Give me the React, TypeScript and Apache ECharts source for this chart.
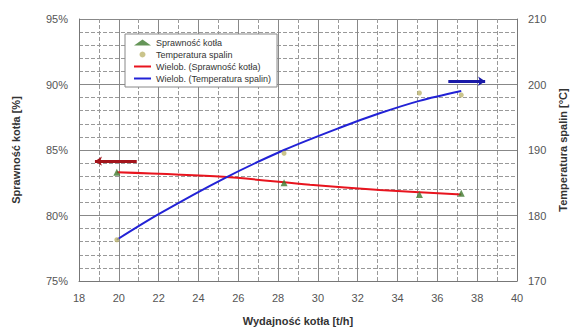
import React, { useEffect, useRef } from "react";
import * as echarts from "echarts";

// Measured points
const effLoad = [19.9, 28.3, 35.1, 37.2];
const effValues = [83.3, 82.5, 81.6, 81.7];
const tempLoad = [19.9, 28.3, 35.1, 37.2];
const tempValues = [176.3, 189.5, 198.7, 198.4];

// Trend lines
const effTrendLoad = [19.9, 25.25, 29.6, 33.1, 37.2];
const effTrendValues = [83.3, 82.95, 82.35, 81.95, 81.6];
const tempTrendLoad = [19.9, 22, 25.25, 28.3, 31.1, 33.1, 35.1, 37.2];
const tempTrendValues = [176.3, 180.2, 185.6, 190.0, 193.4, 195.6, 197.5, 199.0];

// Forecast arrows
const effArrow = [[20.9, 84.15], [18.8, 84.15]];
const tempArrow = [[36.55, 200.5], [38.4, 200.5]];

const seriesNames = [
  "Sprawność kotła",
  "Temperatura spalin",
  "Wielob. (Sprawność kotła)",
  "Wielob. (Temperatura spalin)",
];

const FONT = "Liberation Sans";

export default function App() {
  const ref = useRef<HTMLDivElement>(null);
  useEffect(() => {
    if (!ref.current) return;
    const chart = echarts.init(ref.current, undefined, { renderer: "svg" });
    const zip = (xs: number[], ys: number[]) => xs.map((x, i) => [x, ys[i]]);
    const hidden = { color: "rgba(0,0,0,0)", borderWidth: 0, opacity: 0 };
    chart.setOption({
      animation: false,
      backgroundColor: "#ffffff",
      textStyle: { fontFamily: FONT },
      grid: { left: 79, top: 19, width: 438, height: 262, outerBoundsMode: "none", containLabel: false },
      legend: {
        orient: "vertical",
        left: 125,
        top: 34,
        padding: [4, 6, 4, 8],
        itemGap: 3,
        itemWidth: 17,
        itemHeight: 6,
        backgroundColor: "#ffffff",
        borderColor: "#888",
        borderWidth: 1,
        borderRadius: 0,
        textStyle: { fontSize: 9, color: "#333", fontFamily: FONT },
        data: [
          { name: seriesNames[0], icon: "triangle" },
          { name: seriesNames[1], icon: "circle" },
          { name: seriesNames[2], itemStyle: hidden },
          { name: seriesNames[3], itemStyle: hidden },
        ],
      },
      xAxis: {
        type: "value",
        min: 18,
        max: 40,
        interval: 2,
        name: "Wydajność kotła [t/h]",
        nameLocation: "middle",
        nameGap: 34,
        nameTextStyle: { fontSize: 11, fontWeight: "bold", color: "#333", fontFamily: FONT },
        axisLine: { show: true, lineStyle: { color: "#777" } },
        axisTick: { show: false },
        axisLabel: { fontSize: 11, color: "#555", margin: 11, fontFamily: FONT },
        splitLine: { show: true, lineStyle: { color: "#888", width: 1 } },
        minorTick: { show: false, splitNumber: 2 },
        minorSplitLine: { show: true, lineStyle: { color: "#999", width: 1, type: [4, 2] } },
      },
      yAxis: [
        {
          type: "value",
          min: 75,
          max: 95,
          interval: 5,
          name: "Sprawność kotła [%]",
          nameLocation: "middle",
          nameGap: 58,
          nameTextStyle: { fontSize: 11, fontWeight: "bold", color: "#333", fontFamily: FONT },
          axisLine: { show: true, lineStyle: { color: "#777" } },
          axisTick: { show: false },
          axisLabel: { formatter: "{value}%", fontSize: 11, color: "#555", margin: 11, fontFamily: FONT },
          splitLine: { show: true, lineStyle: { color: "#888", width: 1 } },
          minorTick: { show: false, splitNumber: 5 },
          minorSplitLine: { show: true, lineStyle: { color: "#999", width: 1, type: [4, 2] } },
        },
        {
          type: "value",
          min: 170,
          max: 210,
          interval: 10,
          name: "Temperatura spalin [°C]",
          nameLocation: "middle",
          nameGap: 39,
          nameRotate: 90,
          nameTextStyle: { fontSize: 11, fontWeight: "bold", color: "#333", fontFamily: FONT },
          axisLine: { show: true, lineStyle: { color: "#777" } },
          axisTick: { show: false },
          axisLabel: { fontSize: 11, color: "#555", margin: 11, fontFamily: FONT },
          splitLine: { show: false },
        },
      ],
      series: [
        {
          name: seriesNames[0],
          type: "scatter",
          symbol: "triangle",
          symbolSize: 7,
          itemStyle: { color: "#3f7a2e" },
          data: zip(effLoad, effValues),
          z: 5,
        },
        {
          name: seriesNames[1],
          type: "scatter",
          symbol: "circle",
          symbolSize: 5,
          yAxisIndex: 1,
          itemStyle: { color: "#bdb56e" },
          data: zip(tempLoad, tempValues),
          z: 5,
        },
        {
          name: seriesNames[2],
          type: "line",
          showSymbol: false,
          symbol: "none",
          smooth: 0.3,
          lineStyle: { color: "#e8141e", width: 2 },
          itemStyle: { color: "#e8141e" },
          data: zip(effTrendLoad, effTrendValues),
          markLine: {
            silent: true,
            symbol: ["none", "arrow"],
            symbolSize: [7, 7],
            label: { show: false },
            lineStyle: { color: "#a3141b", width: 3, type: "solid" },
            data: [[{ coord: effArrow[0] }, { coord: effArrow[1] }]],
          },
        },
        {
          name: seriesNames[3],
          type: "line",
          yAxisIndex: 1,
          showSymbol: false,
          symbol: "none",
          smooth: 0.3,
          lineStyle: { color: "#2222d6", width: 2 },
          itemStyle: { color: "#2222d6" },
          data: zip(tempTrendLoad, tempTrendValues),
          markLine: {
            silent: true,
            symbol: ["none", "arrow"],
            symbolSize: [7, 7],
            label: { show: false },
            lineStyle: { color: "#1a1aa8", width: 3, type: "solid" },
            data: [[{ coord: tempArrow[0] }, { coord: tempArrow[1] }]],
          },
        },
      ],
    });
    return () => chart.dispose();
  }, []);
  return (
    <div
      ref={ref}
      style={{ position: "fixed", left: 0, top: 0, width: 575, height: 334 }}
    />
  );
}
